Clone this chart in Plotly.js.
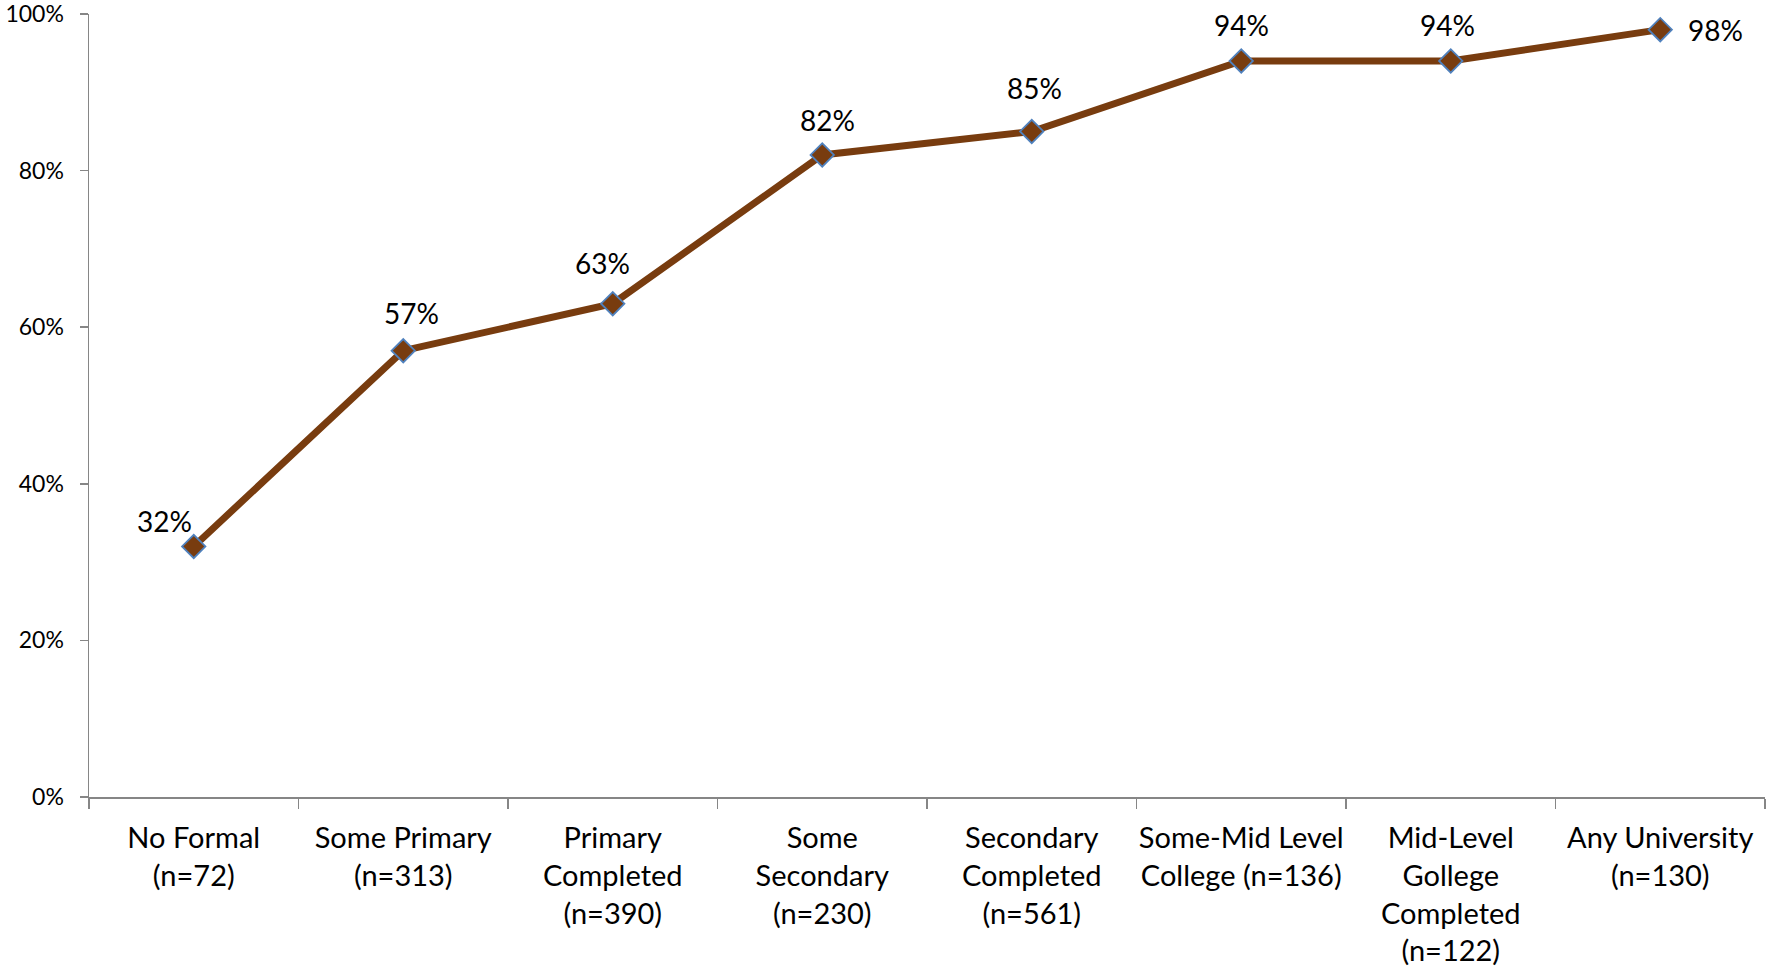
<!DOCTYPE html>
<html>
<head>
<meta charset="utf-8">
<script src="https://cdn.plot.ly/plotly-3.0.1.min.js"></script>
<style>
html,body{margin:0;padding:0;background:#fff;}
#chart{width:1767px;height:976px;}
</style>
</head>
<body>
<div id="chart"></div>
<script>
var categories = [
  "No Formal<br>(n=72)",
  "Some Primary<br>(n=313)",
  "Primary<br>Completed<br>(n=390)",
  "Some<br>Secondary<br>(n=230)",
  "Secondary<br>Completed<br>(n=561)",
  "Some-Mid Level<br>College (n=136)",
  "Mid-Level<br>Gollege<br>Completed<br>(n=122)",
  "Any University<br>(n=130)"
];
var values = [0.32, 0.57, 0.63, 0.82, 0.85, 0.94, 0.94, 0.98];
var valueLabels = ["32%", "57%", "63%", "82%", "85%", "94%", "94%", "98%"];
var yTickVals = [0, 0.2, 0.4, 0.6, 0.8, 1.0];
var yTickText = ["0%", "20%", "40%", "60%", "80%", "100%"];

// label placement styles (pixel offsets), per point
var labelStyle = [
  {xanchor: "right", yanchor: "bottom", xshift: 0, yshift: 6},
  {xanchor: "center", yanchor: "bottom", xshift: 8, yshift: 19},
  {xanchor: "center", yanchor: "bottom", xshift: -10, yshift: 22},
  {xanchor: "center", yanchor: "bottom", xshift: 5, yshift: 16},
  {xanchor: "center", yanchor: "bottom", xshift: 3, yshift: 24},
  {xanchor: "center", yanchor: "bottom", xshift: 0, yshift: 17},
  {xanchor: "center", yanchor: "bottom", xshift: -3, yshift: 17},
  {xanchor: "left", yanchor: "middle", xshift: 26, yshift: 0}
];

var FONT = "Lato, 'Open Sans', sans-serif";

var trace = {
  x: categories,
  y: values,
  type: "scatter",
  mode: "lines+markers",
  line: {color: "#783C0F", width: 7},
  marker: {symbol: "diamond", size: 18, color: "#783C0F", line: {color: "#4F81BD", width: 1.8}},
  hoverinfo: "skip",
  cliponaxis: false
};

var annotations = values.map(function (v, i) {
  var s = labelStyle[i];
  return {
    x: categories[i], y: v, xref: "x", yref: "y",
    text: valueLabels[i], showarrow: false,
    xanchor: s.xanchor, yanchor: s.yanchor,
    xshift: s.xshift, yshift: s.yshift,
    font: {family: FONT, size: 28, color: "#000"}
  };
});

var layout = {
  width: 1767, height: 976,
  margin: {l: 89, r: 2, t: 13.5, b: 179, pad: 0},
  paper_bgcolor: "#fff", plot_bgcolor: "#fff",
  showlegend: false,
  font: {family: FONT, color: "#000"},
  xaxis: {
    type: "category",
    range: [-0.5, categories.length - 0.5],
    showline: true, linecolor: "#868686", linewidth: 1.5,
    ticks: "outside", tickson: "boundaries", ticklen: 10, tickcolor: "#868686", tickwidth: 1.5,
    showgrid: false, zeroline: false,
    tickangle: 0,
    tickfont: {family: FONT, size: 29, color: "#000"},
    ticklabelstandoff: 15
  },
  yaxis: {
    range: [0, 1],
    tickvals: yTickVals, ticktext: yTickText,
    showline: true, linecolor: "#868686", linewidth: 1.5,
    ticks: "outside", ticklen: 8, tickcolor: "#868686", tickwidth: 1.5,
    showgrid: false, zeroline: false,
    tickfont: {family: FONT, size: 23, color: "#000"},
    ticklabelstandoff: 11,
    ticklabeloverflow: "allow"
  },
  annotations: annotations
};

Plotly.newPlot("chart", [trace], layout, {staticPlot: true, displayModeBar: false});
</script>
</body>
</html>
